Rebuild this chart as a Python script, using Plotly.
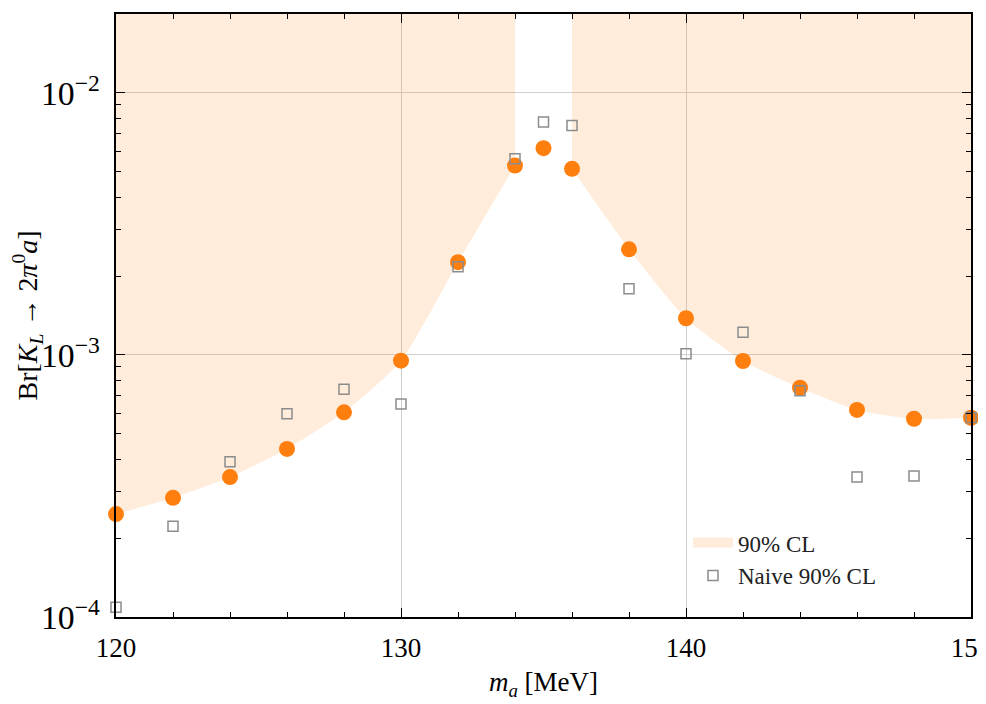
import plotly.graph_objects as go

# Data
mass = [120, 122, 124, 126, 128, 130, 132, 134, 135, 136, 138, 140, 142, 144, 146, 148, 150]
br_limit = [2.47e-4, 2.85e-4, 3.42e-4, 4.38e-4, 6.04e-4, 9.51e-4, 2.26e-3, 5.28e-3, 6.15e-3,
            5.13e-3, 2.53e-3, 1.38e-3, 9.48e-4, 7.50e-4, 6.17e-4, 5.71e-4, 5.76e-4]
br_naive = [1.09e-4, 2.22e-4, 3.91e-4, 5.96e-4, 7.40e-4, 6.50e-4, 2.17e-3, 5.61e-3, 7.75e-3,
            7.50e-3, 1.79e-3, 1.01e-3, 1.22e-3, 7.30e-4, 3.42e-4, 3.45e-4, 5.77e-4]
gap = (134, 136)  # excluded mass window
top_value = 1.0

FILL = "rgba(255,127,14,0.15)"
ORANGE = "#ff7f0e"
FONT = "Liberation Serif"

left_x = [m for m in mass if m <= gap[0]]
left_y = [b for m, b in zip(mass, br_limit) if m <= gap[0]]
right_x = [m for m in mass if m >= gap[1]]
right_y = [b for m, b in zip(mass, br_limit) if m >= gap[1]]

fig = go.Figure()
for xs, ys in [(left_x, left_y), (right_x, right_y)]:
    fig.add_trace(go.Scatter(x=[xs[0], xs[-1]], y=[top_value, top_value], mode="lines",
                             line=dict(width=0, color=FILL), showlegend=False, hoverinfo="skip"))
    fig.add_trace(go.Scatter(x=xs, y=ys, mode="lines", fill="tonexty", fillcolor=FILL,
                             line=dict(width=0, color=FILL, shape="spline", smoothing=0.6),
                             showlegend=False))

# legend entry for the exclusion region (rectangular patch)
fig.add_trace(go.Scatter(x=[None], y=[None], mode="lines", name="90% CL",
                         line=dict(width=15, color=FILL)))

fig.add_trace(go.Scatter(x=mass, y=br_limit, mode="markers", cliponaxis=False,
                         marker=dict(color=ORANGE, size=16, line=dict(width=0)),
                         showlegend=False))
fig.add_trace(go.Scatter(x=mass, y=br_naive, mode="markers", cliponaxis=False,
                         marker=dict(symbol="square-open", color="#8c8c8c", size=10,
                                     line=dict(width=1.5)),
                         name="Naive 90% CL"))

axis_common = dict(showline=True, linecolor="black", linewidth=1.5, mirror="ticks",
                   ticks="inside", tickcolor="black", ticklen=9, tickwidth=1.2,
                   showgrid=True, gridcolor="#cfcfcf", gridwidth=1, zeroline=False,
                   automargin=False, ticklabeloverflow="allow",
                   tickfont=dict(family=FONT, size=27, color="black"), layer="above traces")

fig.update_xaxes(range=[120, 150], tickvals=[120, 130, 140, 150], ticklabelstandoff=6,
                 minor=dict(dtick=2, ticks="inside", ticklen=5, tickcolor="black", showgrid=False),
                 title=dict(text="<i>m</i><sub><i>a</i></sub> [MeV]",
                            font=dict(family=FONT, size=27, color="black"), standoff=10),
                 **axis_common)
fig.update_yaxes(type="log", range=[-4, -1.699], dtick=1, exponentformat="power",
                 ticklabelstandoff=9,
                 minor=dict(dtick="D1", ticks="inside", ticklen=5, tickcolor="black", showgrid=False),
                 title=dict(text="Br[<i>K</i><sub><i>L</i></sub> → 2<i>π</i><sup>0</sup><i>a</i>]",
                            font=dict(family=FONT, size=28, color="black"), standoff=10),
                 **axis_common)

fig.update_layout(width=978, height=696, margin=dict(l=108, r=15, t=6, b=87),
                  plot_bgcolor="white", paper_bgcolor="white",
                  legend=dict(x=0.669, y=0.033, xanchor="left", yanchor="bottom",
                              bgcolor="rgba(255,255,255,0.85)", borderwidth=0,
                              traceorder="normal",
                              font=dict(family=FONT, size=23, color="#222"),
                              itemwidth=40, tracegroupgap=2),
                  font=dict(family=FONT))
fig.write_html("out.html")
